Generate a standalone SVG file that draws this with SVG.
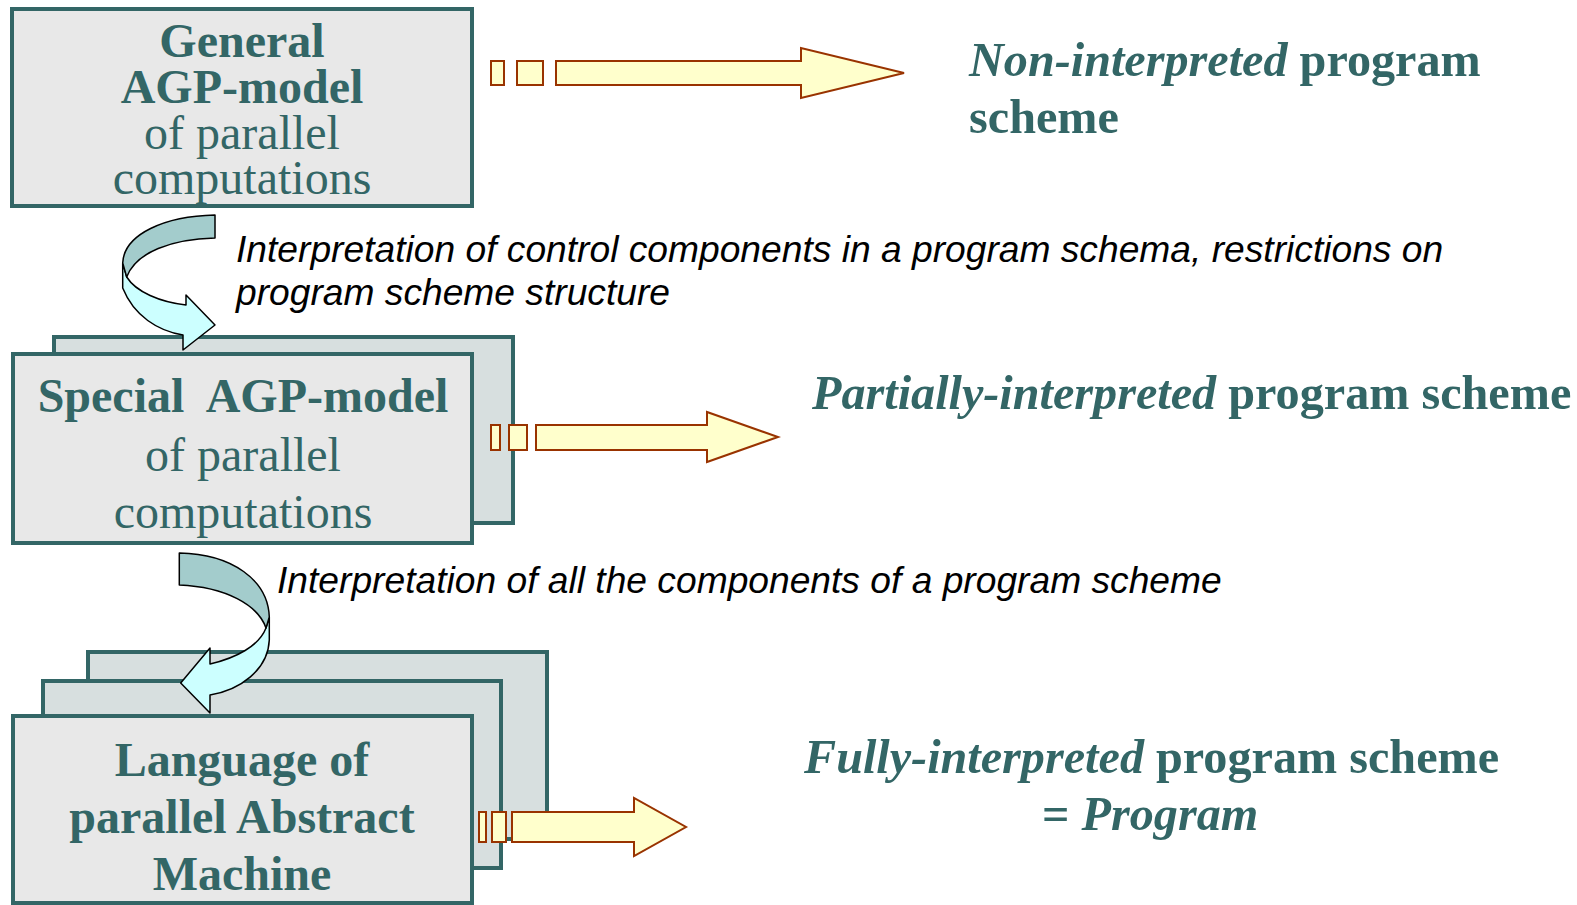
<svg xmlns="http://www.w3.org/2000/svg" width="1577" height="905" viewBox="0 0 1577 905">
<style>
.front{fill:#E8E8E8;stroke:#336666;stroke-width:4}
.back{fill:#D7DFDF;stroke:#336666;stroke-width:4}
.bt{font-family:"Liberation Serif","Times New Roman",serif;font-size:48px;fill:#336666;text-anchor:middle}
.b{font-weight:bold}
.i{font-style:italic}
.rt{font-family:"Liberation Serif","Times New Roman",serif;font-size:48.2px;fill:#336666;font-weight:bold}
.lbl{font-family:"Liberation Sans",Arial,sans-serif;font-size:37.2px;font-style:italic;fill:#000}
.blk{fill:#FFFFCC;stroke:#993300;stroke-width:2}
.top{fill:#A3CCCC;stroke:#000;stroke-width:1.5;stroke-linejoin:round}
.under{fill:#CCFFFF;stroke:#000;stroke-width:1.5;stroke-linejoin:round}
</style>
<rect width="1577" height="905" fill="#FFFFFF"/>

<g id="node-general">
<rect class="front" x="12" y="9" width="460" height="197"/>
<text class="bt b" x="242" y="57">General</text>
<text class="bt b" x="242" y="103">AGP-model</text>
<text class="bt" x="242" y="149">of parallel</text>
<text class="bt" x="242" y="194">computations</text>
</g>

<g id="node-special">
<rect class="back" x="54" y="337" width="459" height="186"/>
<rect class="front" x="13" y="354" width="459" height="189"/>
<text class="bt b" x="243" y="412" style="white-space:pre">Special  AGP-model</text>
<text class="bt" x="243" y="471">of parallel</text>
<text class="bt" x="243" y="528">computations</text>
</g>

<g id="node-language">
<rect class="back" x="88" y="652" width="459" height="187"/>
<rect class="back" x="43" y="681" width="458" height="187"/>
<rect class="front" x="13" y="716" width="459" height="187"/>
<text class="bt b" x="242" y="776">Language of</text>
<text class="bt b" x="242" y="833">parallel Abstract</text>
<text class="bt b" x="242" y="890">Machine</text>
</g>

<g id="result-non">
<text class="rt" x="969" y="76"><tspan class="i">Non-interpreted</tspan> program</text>
<text class="rt" x="969" y="133">scheme</text>
</g>

<g id="result-partial">
<text class="rt" x="812" y="409"><tspan class="i">Partially-interpreted</tspan> program scheme</text>
</g>

<g id="result-full">
<text class="rt" x="804" y="773"><tspan class="i">Fully-interpreted</tspan> program scheme</text>
<text class="rt" x="1042" y="830">= <tspan class="i">Program</tspan></text>
</g>

<g id="connectors">
<g id="arrow-1">
<rect class="blk" x="491" y="61" width="13" height="24"/>
<rect class="blk" x="517" y="61" width="26" height="24"/>
<path class="blk" d="M556,61 L801,61 L801,48 L904,73 L801,98 L801,85 L556,85 Z"/>
</g>
<g id="arrow-2">
<rect class="blk" x="491" y="425" width="9" height="25"/>
<rect class="blk" x="509" y="425" width="18" height="25"/>
<path class="blk" d="M536,425 L707,425 L707,412 L778,437 L707,462 L707,450 L536,450 Z"/>
</g>
<g id="arrow-3">
<rect class="blk" x="479" y="812" width="7" height="30"/>
<rect class="blk" x="492" y="812" width="14" height="30"/>
<path class="blk" d="M512,812 L634,812 L634,798 L686,827 L634,856 L634,842 L512,842 Z"/>
</g>
<g id="curve-1">
<path class="under" d="M122.7,263 L122.7,288 C134,316 158,331 183,335 L183,350 L215,325 L186,295 L186,305 C160,302 136,292 126.7,277 Z"/>
<path class="top" d="M215,215 L215,238 C172,239 136,252 126.7,277 L122.7,263 C124,234 165,216 215,215 Z"/>
</g>
<text class="lbl" x="236" y="262">Interpretation of control components in a program schema, restrictions on</text>
<text class="lbl" x="236" y="305">program scheme structure</text>
<g id="curve-2">
<path class="under" d="M269.3,617 L269.3,640 C268,670 240,690 210,695 L210,713 L180.7,683 L210,648 L210,664 C236,658 259,646 266,628 Z"/>
<path class="top" d="M179.3,553 C232,554 268,580 269.3,617 L266,628 C258,605 226,587 179.3,585 Z"/>
</g>
<text class="lbl" x="277" y="593">Interpretation of all the components of a program scheme</text>
</g>
</svg>
